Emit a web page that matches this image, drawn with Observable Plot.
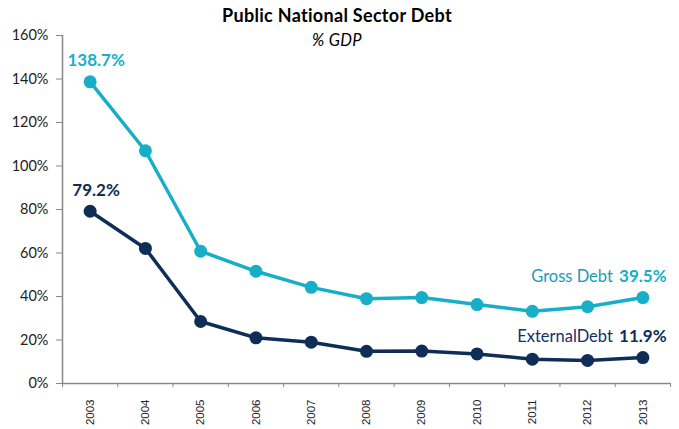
<!DOCTYPE html>
<html>
<head>
<meta charset="utf-8">
<script src="https://cdn.jsdelivr.net/npm/d3@7"></script>
<script src="https://cdn.jsdelivr.net/npm/@observablehq/plot@0.6"></script>
<style>
  html, body { margin: 0; padding: 0; background: #fff; }
  #wrap { position: relative; width: 679px; height: 429px; font-family: Lato, "Open Sans", sans-serif; }
  #title { position: absolute; left: 0; width: 674px; top: 4px; text-align: center; font-weight: bold; font-size: 18px; letter-spacing: 0.3px; color: #000; }
  #subtitle { position: absolute; left: 0; width: 674px; top: 30px; text-align: center; font-style: italic; font-size: 16.5px; letter-spacing: 0.3px; color: #000; }
</style>
</head>
<body>
<div id="wrap">
  <div id="chart"></div>
  <div id="title">Public National Sector Debt</div>
  <div id="subtitle">% GDP</div>
</div>
<script>
const years = [2003, 2004, 2005, 2006, 2007, 2008, 2009, 2010, 2011, 2012, 2013];
const grossDebt = [138.7, 107.0, 60.8, 51.6, 44.2, 39.0, 39.5, 36.3, 33.2, 35.3, 39.5];
const externalDebt = [79.2, 62.1, 28.5, 21.0, 19.0, 14.8, 14.9, 13.6, 11.2, 10.6, 11.9];
const seriesNames = ["Gross Debt", "ExternalDebt"];
const seriesColors = ["#17AFC7", "#0E2E57"];
const nameColors = ["#1B9BB3", "#13306A"];
const yTicks = [0, 20, 40, 60, 80, 100, 120, 140, 160];

const data = [];
years.forEach((yr, i) => {
  data.push({year: yr, value: grossDebt[i], series: seriesNames[0]});
  data.push({year: yr, value: externalDebt[i], series: seriesNames[1]});
});
const bounds = years.map(y => y - 0.5).concat([years[years.length - 1] + 0.5]);
const firstPts = data.filter(d => d.year === years[0]);
const lastPts = data.filter(d => d.year === years[years.length - 1]);

const gray = "#878787";
const chart = Plot.plot({
  width: 679,
  height: 429,
  marginLeft: 62,
  marginRight: 9,
  marginTop: 35,
  marginBottom: 46,
  style: {fontFamily: "Lato, 'Open Sans', sans-serif", background: "#fff"},
  x: {type: "linear", domain: [bounds[0], bounds[bounds.length - 1]]},
  y: {domain: [0, 160]},
  color: {domain: seriesNames, range: seriesColors},
  marks: [
    Plot.axisY({ticks: yTicks, tickSize: 6, tickPadding: 8, tickFormat: d => d + "%", stroke: gray, fill: "#222", fontSize: 14.5, label: null}),
    Plot.axisX({ticks: bounds, tickSize: 4, tickFormat: () => "", stroke: gray, label: null}),
    Plot.axisX({ticks: years, tickSize: 0, tickPadding: 16, tickRotate: -90, tickFormat: d => String(d), fill: "#222", fontSize: 11.5, fontFamily: "'Liberation Sans', Arial, sans-serif", label: null}),
    Plot.ruleX([bounds[0]], {stroke: gray, strokeWidth: 1.5}),
    Plot.ruleY([0], {stroke: gray, strokeWidth: 1.5}),
    Plot.line(data, {x: "year", y: "value", z: "series", stroke: "series", strokeWidth: 3.5}),
    Plot.dot(data, {x: "year", y: "value", fill: "series", r: 6.5, stroke: null}),
    Plot.text(firstPts, {x: "year", y: "value", text: d => d.value.toFixed(1) + "%", fill: "series", dy: -21, dx: 6, fontWeight: "bold", fontSize: 17}),
    Plot.text(lastPts, {x: "year", y: "value", text: d => d.value.toFixed(1) + "%", fill: "series", dy: -21, fontWeight: "bold", fontSize: 17}),
    Plot.text(lastPts, {x: "year", y: "value", text: "series", fill: d => nameColors[seriesNames.indexOf(d.series)], dy: -21, dx: -30, textAnchor: "end", fontSize: 16.5})
  ]
});
document.getElementById("chart").appendChild(chart);
</script>
</body>
</html>
